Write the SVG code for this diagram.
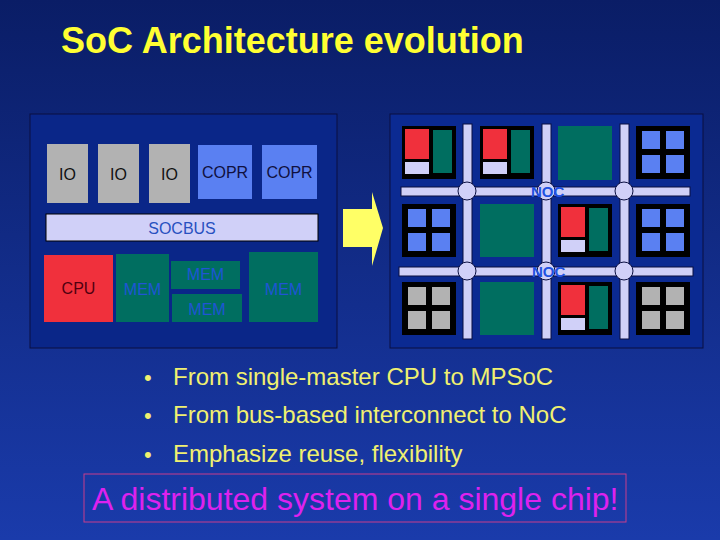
<svg xmlns="http://www.w3.org/2000/svg" width="720" height="540" viewBox="0 0 720 540">
<defs>
<linearGradient id="bg" x1="0" y1="0" x2="0" y2="1">
<stop offset="0" stop-color="#0a1d66"/>
<stop offset="1" stop-color="#1a3bab"/>
</linearGradient>
<style>
.t{font-family:"Liberation Sans",Arial,sans-serif;}
.lbl{font-size:16px;text-anchor:middle;}
.io{fill:#b2b2b2;}
.copr{fill:#5a80f2;}
.mem{fill:#006e60;}
.memt{fill:#1f55d5;}
.red{fill:#f0303c;}
.lav{fill:#d0d0f8;}
.frame{fill:#000;}
.bar{fill:#d0d0f8;stroke:#0a0f40;stroke-width:1;}
.gray{fill:#b2b2b2;}
.bul{font-size:24px;fill:#f0f070;}
.dot{font-size:22px;}
.noct{font-size:15px;font-weight:bold;fill:#2050e0;}
</style>
<g id="tileA">
<rect class="frame" x="0" y="0" width="54" height="53"/>
<rect class="red" x="3" y="3" width="24" height="30"/>
<rect class="lav" x="3" y="36" width="24" height="12"/>
<rect class="mem" x="31" y="4" width="19" height="43"/>
</g>
<g id="tileB">
<rect class="frame" x="0" y="0" width="54" height="53"/>
<rect class="copr" x="6" y="5" width="18" height="18"/>
<rect class="copr" x="30" y="5" width="18" height="18"/>
<rect class="copr" x="6" y="29" width="18" height="18"/>
<rect class="copr" x="30" y="29" width="18" height="18"/>
</g>
<g id="tileG">
<rect class="frame" x="0" y="0" width="54" height="53"/>
<rect class="gray" x="6" y="5" width="18" height="18"/>
<rect class="gray" x="30" y="5" width="18" height="18"/>
<rect class="gray" x="6" y="29" width="18" height="18"/>
<rect class="gray" x="30" y="29" width="18" height="18"/>
</g>
</defs>
<rect width="720" height="540" fill="url(#bg)"/>

<text class="t" x="61" y="53" font-size="36" font-weight="bold" fill="#ffff33">SoC Architecture evolution</text>

<g id="busSoC">
<rect x="30" y="114" width="307" height="234" fill="#0a2688" stroke="#0a0f40" stroke-width="1"/>
<g id="io1"><rect class="io" x="47" y="144" width="41" height="59"/><text class="t lbl" x="67.5" y="180" fill="#111">IO</text></g>
<g id="io2"><rect class="io" x="98" y="144" width="41" height="59"/><text class="t lbl" x="118.5" y="180" fill="#111">IO</text></g>
<g id="io3"><rect class="io" x="149" y="144" width="41" height="59"/><text class="t lbl" x="169.5" y="180" fill="#111">IO</text></g>
<g id="copr1"><rect class="copr" x="198" y="145" width="54" height="54"/><text class="t lbl" x="225" y="178" fill="#101040">COPR</text></g>
<g id="copr2"><rect class="copr" x="262" y="145" width="55" height="54"/><text class="t lbl" x="289.5" y="178" fill="#101040">COPR</text></g>
<g id="socbus"><rect x="46" y="214" width="272" height="27" fill="#d0d0f8" stroke="#000" stroke-width="1"/><text class="t lbl" x="182" y="234" fill="#2850c0">SOCBUS</text></g>
<g id="cpu"><rect class="red" x="44" y="255" width="69" height="67"/><text class="t lbl" x="78.5" y="294" fill="#500010">CPU</text></g>
<g id="mem1"><rect class="mem" x="116" y="254" width="53" height="68"/><text class="t lbl memt" x="142.5" y="295">MEM</text></g>
<g id="mem2"><rect class="mem" x="171" y="261" width="69" height="28"/><text class="t lbl memt" x="205.5" y="280">MEM</text></g>
<g id="mem3"><rect class="mem" x="172" y="294" width="70" height="28"/><text class="t lbl memt" x="207" y="315">MEM</text></g>
<g id="mem4"><rect class="mem" x="249" y="252" width="69" height="70"/><text class="t lbl memt" x="283.5" y="295">MEM</text></g>
</g>

<g id="arrow">
<polygon points="343,209 372,209 372,192 383,228 372,266 372,247 343,247" fill="#ffff66"/>
</g>

<g id="noc">
<rect x="390" y="114" width="313" height="234" fill="#0b2a92" stroke="#0a0f40" stroke-width="1"/>
<g id="connectors">
<rect class="bar" x="463" y="124" width="9" height="215"/>
<rect class="bar" x="542" y="124" width="9" height="215"/>
<rect class="bar" x="620" y="124" width="9" height="215"/>
<rect class="bar" x="401" y="187" width="289" height="9"/>
<rect class="bar" x="399" y="267" width="294" height="9"/>
<circle class="bar" cx="467" cy="191" r="9"/>
<circle class="bar" cx="546" cy="191" r="9"/>
<circle class="bar" cx="624" cy="191" r="9"/>
<circle class="bar" cx="467" cy="271" r="9"/>
<circle class="bar" cx="546" cy="271" r="9"/>
<circle class="bar" cx="624" cy="271" r="9"/>
</g>
<g id="r1c1"><use href="#tileA" x="402" y="126"/></g>
<g id="r1c2"><use href="#tileA" x="480" y="126"/></g>
<g id="r1c3"><rect class="mem" x="558" y="126" width="54" height="54"/></g>
<g id="r1c4"><use href="#tileB" x="636" y="126"/></g>
<g id="r2c1"><use href="#tileB" x="402" y="204"/></g>
<g id="r2c2"><rect class="mem" x="480" y="204" width="54" height="53"/></g>
<g id="r2c3"><use href="#tileA" x="558" y="204"/></g>
<g id="r2c4"><use href="#tileB" x="636" y="204"/></g>
<g id="r3c1"><use href="#tileG" x="402" y="282"/></g>
<g id="r3c2"><rect class="mem" x="480" y="282" width="54" height="53"/></g>
<g id="r3c3"><use href="#tileA" x="558" y="282"/></g>
<g id="r3c4"><use href="#tileG" x="636" y="282"/></g>
<text class="t noct" x="531" y="197">NOC</text>
<text class="t noct" x="532" y="277">NOC</text>
</g>

<g id="bullets" class="t bul">
<text class="dot" x="144" y="385">•</text><text x="173" y="385">From single-master CPU to MPSoC</text>
<text class="dot" x="144" y="423">•</text><text x="173" y="423">From bus-based interconnect to NoC</text>
<text class="dot" x="144" y="462">•</text><text x="173" y="462">Emphasize reuse, flexibility</text>
</g>

<g id="callout">
<rect x="84" y="474" width="542" height="48" fill="none" stroke="#c83c8c" stroke-width="1"/>
<text class="t" x="92" y="510" font-size="32" fill="#dd22ee">A distributed system on a single chip!</text>
</g>
</svg>
